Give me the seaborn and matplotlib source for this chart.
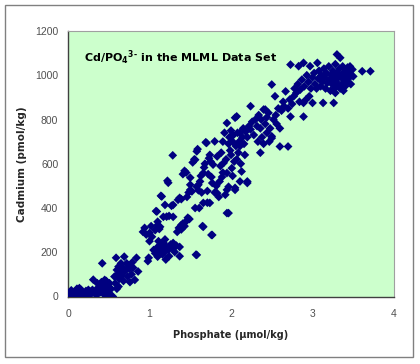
import matplotlib
matplotlib.use("Agg")
import matplotlib.pyplot as plt
import seaborn as sns
import pandas as pd
from matplotlib.patches import Rectangle

# ---- data ----
x_low = [0.0, 0.02, 0.03, 0.05, 0.06, 0.08, 0.08, 0.10, 0.10, 0.12, 0.13, 0.14, 0.15, 0.16,
         0.17, 0.18, 0.20, 0.21, 0.22, 0.04, 0.11, 0.19, 0.24, 0.25, 0.01, 0.07,
         0.27, 0.28, 0.30, 0.31, 0.33, 0.35, 0.37, 0.39, 0.40, 0.41, 0.42, 0.43, 0.44, 0.45,
         0.46, 0.47, 0.48, 0.50, 0.51, 0.53, 0.55, 0.38, 0.45, 0.49, 0.36]
y_low = [0, 5, 15, 0, 10, 20, 3, 0, 12, 25, 8, 38, 15, 30,
         5, 20, 10, 0, 25, 28, 35, 2, 15, 30, 0, 6,
         22, 10, 30, 76, 18, 5, 40, 55, 20, 65, 150, 35, 10, 50,
         28, 70, 45, 18, 60, 35, 0, 30, 75, 2, 60]

x_mid = [0.57, 0.59, 0.58, 0.60, 0.61, 0.62, 0.63, 0.64, 0.65, 0.66, 0.67, 0.68, 0.69, 0.70,
         0.72, 0.73, 0.74, 0.75, 0.76, 0.78, 0.79, 0.80, 0.82, 0.84, 0.86, 0.60, 0.62,
         0.92, 0.94, 0.96, 0.98, 0.99, 1.00, 1.00, 1.02, 1.03, 1.07, 1.09, 1.10, 1.10, 1.12,
         1.13, 1.15, 1.17, 1.19, 1.21, 1.23, 1.24, 1.29, 1.29, 1.22, 1.27, 1.14, 1.08,
         1.05, 1.07, 1.09, 1.10, 1.12, 1.13, 1.15, 1.16, 1.18, 1.19, 1.20, 1.21, 1.23, 1.24,
         1.26, 1.28, 1.29, 1.31, 1.33, 1.17, 1.11]
y_mid = [90, 175, 60, 120, 100, 135, 80, 110, 150, 95, 130, 70, 180, 115,
         150, 90, 140, 125, 65, 100, 155, 130, 75, 175, 113, 35, 45,
         292, 310, 280, 160, 175, 287, 250, 318, 270, 300, 384, 323, 338, 305,
         315, 452, 360, 414, 361, 514, 364, 414, 360, 523, 410, 455, 386,
         210, 195, 220, 180, 205, 230, 215, 190, 200, 258, 167, 225, 210, 182,
         235, 220, 242, 201, 230, 245, 250]

x_up = [1.34, 1.36, 1.37, 1.37, 1.39, 1.39, 1.41, 1.43, 1.45, 1.47, 1.49, 1.35, 1.37, 1.39,
        1.41, 1.43, 1.45, 1.46, 1.48, 1.50, 1.50, 1.50, 1.52, 1.53, 1.55, 1.56, 1.56, 1.57,
        1.58, 1.58, 1.59, 1.58, 1.60, 1.60, 1.61, 1.62, 1.63, 1.64, 1.65, 1.66, 1.66, 1.66,
        1.67, 1.68, 1.69, 1.70, 1.71, 1.71, 1.72, 1.73, 1.74, 1.74, 1.76, 1.77, 1.77, 1.285,
        1.75, 1.76, 1.78, 1.80, 1.80, 1.82, 1.83, 1.83, 1.85, 1.86, 1.87, 1.88, 1.90, 1.90,
        1.91, 1.92, 1.93, 1.94, 1.95, 1.95, 1.95, 1.95, 1.97, 1.97, 1.97, 1.98, 2.00, 2.00,
        2.01, 2.02, 2.03, 2.04, 2.05, 2.05, 2.05, 2.06, 2.07, 2.08, 2.09, 2.10, 2.11, 2.11,
        2.11, 2.12, 2.13, 2.14, 2.15, 2.16, 2.18, 2.20, 2.20, 2.20, 2.22, 2.24, 2.24, 2.02,
        1.99, 1.89, 2.07, 2.17]
y_up = [292, 310, 224, 182, 303, 323, 330, 318, 340, 356, 350, 437, 446, 440,
        553, 568, 560, 450, 470, 482, 537, 505, 475, 606, 620, 618, 400, 189,
        188, 656, 666, 496, 480, 505, 400, 520, 545, 470, 318, 423, 315, 558,
        583, 600, 697, 694, 477, 424, 553, 625, 423, 640, 278, 278, 513, 638,
        610, 540, 596, 701, 470, 500, 633, 467, 450, 520, 590, 650, 700, 560,
        604, 740, 460, 620, 784, 558, 482, 377, 496, 377, 690, 720, 640, 750,
        580, 700, 730, 610, 482, 491, 808, 680, 814, 740, 650, 700, 520, 680,
        740, 600, 565, 720, 760, 690, 745, 520, 513, 720, 770, 860, 755, 545,
        660, 540, 620, 640]

x_high = [2.26, 2.28, 2.30, 2.32, 2.33, 2.34, 2.36, 2.36, 2.37, 2.38, 2.40, 2.40, 2.42, 2.42,
          2.44, 2.44, 2.46, 2.47, 2.48, 2.50, 2.50, 2.50, 2.52, 2.54, 2.55, 2.56, 2.58, 2.60,
          2.60, 2.62, 2.64, 2.65,
          2.67, 2.70, 2.70, 2.72, 2.73, 2.73, 2.75, 2.77, 2.78, 2.80, 2.82, 2.83, 2.84, 2.85,
          2.87, 2.89, 2.89, 2.89, 2.90, 2.92, 2.93, 2.95, 2.96, 2.97, 2.98, 3.00, 3.00,
          3.02, 3.03, 3.05, 3.06, 3.07, 3.08, 3.10, 3.11, 3.12, 3.13, 3.14, 3.15, 3.16, 3.17,
          3.18, 3.20, 3.21, 3.22, 3.23, 3.24, 3.25, 3.26, 3.26, 3.27, 3.28, 3.29, 3.30, 3.30,
          3.31, 3.32, 3.33, 3.34, 3.34, 3.35, 3.36, 3.37, 3.38, 3.39, 3.40, 3.41, 3.42, 3.43,
          3.44, 3.45, 3.47, 3.49, 3.50, 3.61, 3.71, 3.46, 3.38, 3.28]
y_high = [790, 730, 800, 770, 700, 820, 650, 760, 800, 720, 845, 690, 845, 780,
          740, 810, 830, 700, 760, 724, 716, 958, 800, 905, 820, 780, 850, 678,
          760, 840, 880, 860,
          927, 678, 850, 890, 813, 1048, 870, 905, 940, 920, 960, 1041, 880, 935,
          980, 813, 875, 1056, 950, 890, 1000, 970, 905, 1041, 940, 875, 990,
          1010, 960, 940, 1056, 985, 1020, 950, 1000, 970, 875, 1030, 990, 940, 1010,
          965, 1040, 980, 930, 1000, 960, 1020, 875, 990, 940, 1050, 970, 1094, 1010,
          955, 990, 1030, 1079, 940, 1000, 960, 1040, 980, 1015, 950, 1000, 970, 1035,
          985, 1010, 960, 1026, 995, 1018, 1018, 1040, 930, 920]

x_ticks = [0, 1, 2, 3, 4]
y_ticks = [0, 200, 400, 600, 800, 1000, 1200]
title_text = r"Cd/PO$_4$$^{3\text{-}}$ in the MLML Data Set"
x_label = "Phosphate (µmol/kg)"
y_label = "Cadmium (pmol/kg)"

df = pd.DataFrame({
    "phosphate": x_low + x_mid + x_up + x_high,
    "cadmium": y_low + y_mid + y_up + y_high,
})

sns.set_style("white")
plt.rcParams["font.family"] = ["Liberation Sans", "DejaVu Sans"]
plt.rcParams["mathtext.fontset"] = "custom"
plt.rcParams["mathtext.rm"] = "DejaVu Sans:bold"
plt.rcParams["mathtext.it"] = "DejaVu Sans:bold"
plt.rcParams["mathtext.bf"] = "DejaVu Sans:bold"

fig = plt.figure(figsize=(4.2, 3.64), dpi=100)
fig.patch.set_facecolor("white")
fig.patches.append(Rectangle((5 / 420, 7 / 364), 408 / 420, 352 / 364,
                             transform=fig.transFigure, fill=False,
                             edgecolor="#808080", linewidth=1.0))

ax = fig.add_axes([68 / 420, (364 - 296.5) / 364, 326 / 420, 265.5 / 364])
ax.set_facecolor("#CCFFCC")

sns.scatterplot(data=df, x="phosphate", y="cadmium", ax=ax, marker="D",
                s=20, color="#000080", edgecolor="none", linewidth=0, zorder=3)

ax.set_xlim(0, 4)
ax.set_ylim(0, 1200)
ax.set_xticks(x_ticks)
ax.set_yticks(y_ticks)
ax.set_xticklabels([str(t) for t in x_ticks], fontsize=7.5, color="#505050")
ax.set_yticklabels([str(t) for t in y_ticks], fontsize=7.5, color="#505050")
ax.tick_params(axis="x", direction="inout", length=6, width=0.8, color="#404040", pad=6)
ax.tick_params(axis="y", direction="out", length=4, width=0.8, color="#404040", pad=3)

ax.set_xlabel(x_label, fontsize=7, fontweight="bold", family=["DejaVu Sans"], labelpad=8)
ax.set_ylabel(y_label, fontsize=7.5, fontweight="bold", family=["DejaVu Sans"], labelpad=6)

for side in ["left", "bottom"]:
    ax.spines[side].set_color("#404040")
    ax.spines[side].set_linewidth(1.0)
for side in ["top", "right"]:
    ax.spines[side].set_color("#a0a0a0")
    ax.spines[side].set_linewidth(0.8)

ax.text(0.05, 0.885, title_text, transform=ax.transAxes, fontsize=8,
        fontweight="bold", family=["DejaVu Sans"], color="#000000",
        ha="left", va="baseline")

fig.savefig("out.png", dpi=100)
